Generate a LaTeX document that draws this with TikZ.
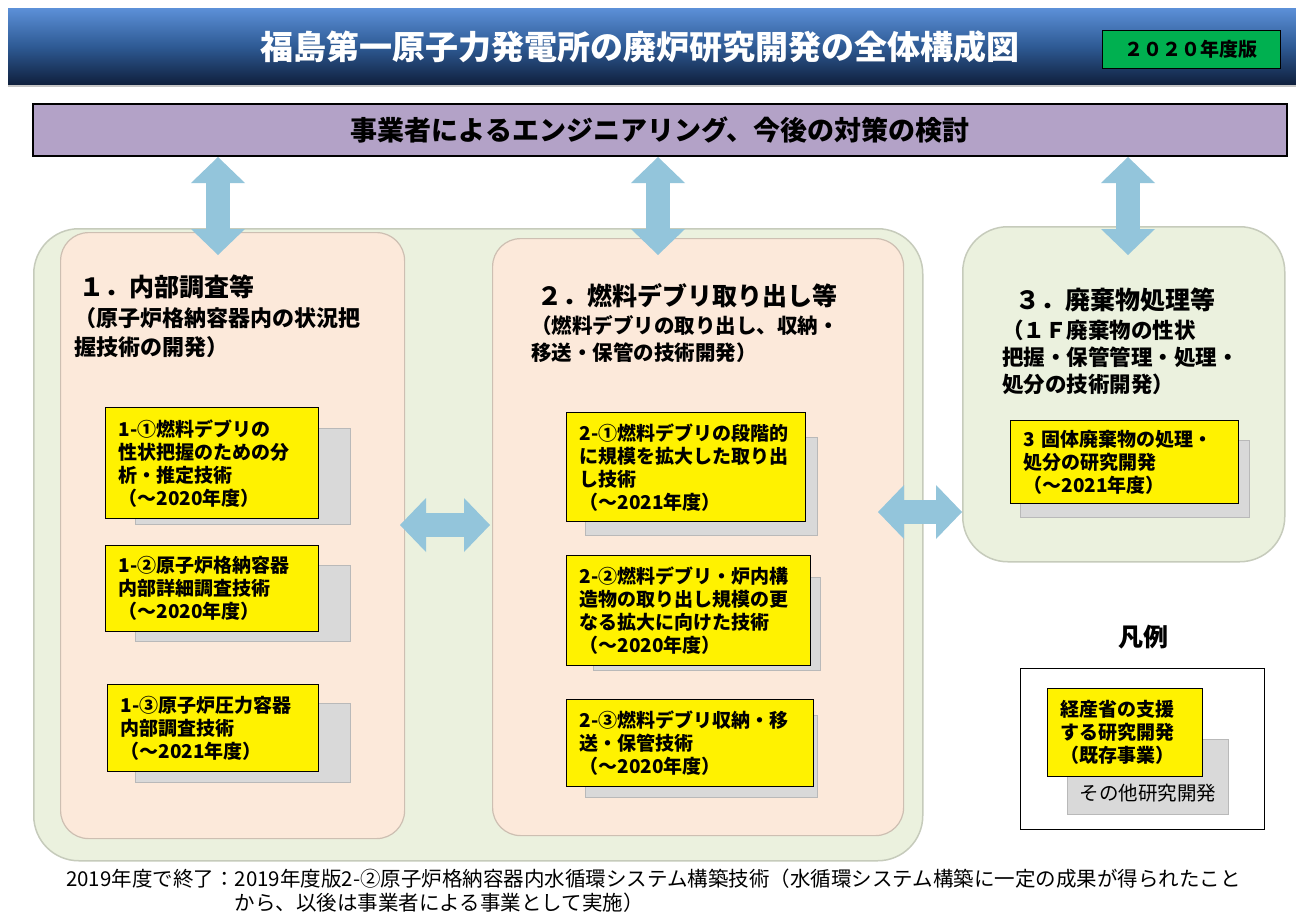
\documentclass[tikz,border=0pt]{standalone}
\usepackage{fontspec}
\setmainfont{Noto Sans CJK JP}
\usetikzlibrary{arrows.meta}
\newcommand{\fs}[2]{\fontsize{#1}{#2}\selectfont}
\definecolor{hdtop}{HTML}{5C90D8}
\definecolor{hdmid}{HTML}{2E5A94}
\definecolor{hdbot}{HTML}{0F1F3C}
\definecolor{bangreen}{HTML}{00B050}
\definecolor{barpurple}{HTML}{B3A2C7}
\definecolor{arrblue}{HTML}{93C5DB}
\definecolor{zonegreen}{HTML}{EBF1DE}
\definecolor{zoneline}{HTML}{C6CBBB}
\definecolor{panelpink}{HTML}{FCE9DA}
\definecolor{panelline}{HTML}{CDBFB2}
\definecolor{shadowgray}{HTML}{D9D9D9}

\begin{document}
\begin{tikzpicture}[x=1pt,y=-1pt,
    zone/.style={draw=zoneline, line width=1.5pt, fill=zonegreen, rounded corners=45pt, anchor=north west},
    panel/.style={draw=panelline, line width=1.2pt, fill=panelpink, rounded corners=28pt, anchor=north west},
    ybox/.style={draw=black, line width=1.3pt, fill=yellow, anchor=north west, align=left, inner xsep=13pt, font=\bfseries\fs{19}{23}},
    gbox/.style={draw=gray!55, line width=1pt, fill=shadowgray, anchor=north west},
    head/.style={anchor=west, font=\bfseries\fs{25}{28}},
    sub/.style={anchor=north west, align=left, inner sep=0pt},
    fat/.style={line width=24pt, draw=arrblue, fill=arrblue,
      {Triangle[length=26pt,width=54pt,line width=0pt]}-{Triangle[length=26pt,width=54pt,line width=0pt]}}]
    \useasboundingbox (0,0) rectangle (1296,913);
    \fill[white] (0,0) rectangle (1296,913);

    \shade[top color=hdtop, bottom color=hdbot, middle color=hdmid] (8,8) rectangle (1296,85);
    \draw[gray!45, line width=2pt] (8,86) -- (1296,86);
    \node[text=white, font=\bfseries\fs{33}{38}] (title) at (640,47) {福島第一原子力発電所の廃炉研究開発の全体構成図};
    \node[draw=black, line width=1pt, fill=bangreen, minimum width=178pt, minimum height=38pt, font=\bfseries\fs{19}{22}] (ban) at (1191,49) {２０２０年度版};

    \node[draw=black, line width=1.5pt, fill=barpurple, minimum width=1254pt, minimum height=52pt, font=\bfseries\fs{27}{30}] (bar) at (660,130) {事業者によるエンジニアリング、今後の対策の検討};

    \node[zone, minimum width=889pt, minimum height=632pt] (zone) at (33,228) {};
    \node[panel, minimum width=344pt, minimum height=606pt] (p1) at (60,232) {};
    \node[panel, minimum width=411pt, minimum height=597pt] (p2) at (492,238) {};
    \node[zone, minimum width=322pt, minimum height=335pt] (p3) at (962,226) {};

    \node[head] (h1) at (76,287) {１．内部調査等};
    \node[sub, font=\bfseries\fs{22}{29}] (d1) at (74,307) {（原子炉格納容器内の状況把\\握技術の開発）};
    \node[head] (h2) at (534,296) {２．燃料デブリ取り出し等};
    \node[sub, font=\bfseries\fs{20.5}{27}] (d2) at (531,315) {（燃料デブリの取り出し、収納・\\移送・保管の技術開発）};
    \node[head] (h3) at (1012,300) {３．廃棄物処理等};
    \node[sub, font=\bfseries\fs{21.5}{27}] (d3) at (1002,320) {（１Ｆ廃棄物の性状\\把握・保管管理・処理・\\処分の技術開発）};

    \node[gbox, minimum width=215pt, minimum height=96pt] (s11) at (135,428) {};
    \node[ybox, minimum width=213pt, minimum height=111pt, text width=187pt] (b11) at (105,407) {1-①燃料デブリの\\性状把握のための分\\析・推定技術\\（～2020年度）};
    \node[gbox, minimum width=215pt, minimum height=76pt] (s12) at (135,565) {};
    \node[ybox, minimum width=213pt, minimum height=86pt, text width=187pt] (b12) at (105,545) {1-②原子炉格納容器\\内部詳細調査技術\\（～2020年度）};
    \node[gbox, minimum width=215pt, minimum height=79pt] (s13) at (135,703) {};
    \node[ybox, minimum width=211pt, minimum height=87pt, text width=185pt] (b13) at (107,684) {1-③原子炉圧力容器\\内部調査技術\\（～2021年度）};

    \node[gbox, minimum width=232pt, minimum height=98pt] (s21) at (585,437) {};
    \node[ybox, minimum width=239pt, minimum height=109pt, text width=213pt] (b21) at (566,412) {2-①燃料デブリの段階的\\に規模を拡大した取り出\\し技術\\（～2021年度）};
    \node[gbox, minimum width=227pt, minimum height=93pt] (s22) at (593,577) {};
    \node[ybox, minimum width=244pt, minimum height=110pt, text width=218pt] (b22) at (566,555) {2-②燃料デブリ・炉内構\\造物の取り出し規模の更\\なる拡大に向けた技術\\（～2020年度）};
    \node[gbox, minimum width=232pt, minimum height=82pt] (s23) at (585,715) {};
    \node[ybox, minimum width=247pt, minimum height=87pt, text width=221pt] (b23) at (566,699) {2-③燃料デブリ収納・移\\送・保管技術\\（～2020年度）};

    \node[gbox, minimum width=229pt, minimum height=77pt] (s31) at (1020,440) {};
    \node[ybox, minimum width=228pt, minimum height=83pt, text width=202pt] (b31) at (1010,420) {3 固体廃棄物の処理・\\処分の研究開発\\（～2021年度）};

    \node[font=\bfseries\fs{25}{28}] (lgt) at (1143,637) {凡例};
    \node[draw=black, line width=1pt, fill=white, minimum width=244pt, minimum height=161pt, anchor=north west] (lg) at (1020,668) {};
    \node[gbox, minimum width=161pt, minimum height=75pt] (lgs) at (1067,739) {};
    \node[font=\fs{19.5}{22}] (lgn) at (1148,793) {その他研究開発};
    \node[ybox, minimum width=155pt, minimum height=88pt, text width=129pt] (lgy) at (1047,688) {経産省の支援\\する研究開発\\（既存事業）};

    \node[anchor=north west, inner sep=0pt, font=\fs{20.5}{21}] (note) at (66,869) {\begin{tabular}{@{}l@{}l@{}}2019年度で終了：&2019年度版2-②原子炉格納容器内水循環システム構築技術（水循環システム構築に一定の成果が得られたこと\\&から、以後は事業者による事業として実施）\end{tabular}};

    \coordinate (v1a) at (218,157);
    \coordinate (v1b) at (218,255);
    \coordinate (v2a) at (658,157);
    \coordinate (v2b) at (658,255);
    \coordinate (v3a) at (1128,157);
    \coordinate (v3b) at (1128,255);
    \coordinate (m12a) at (400,525);
    \coordinate (m12b) at (490,525);
    \coordinate (m23a) at (878,512);
    \coordinate (m23b) at (962,512);
    \draw[fat] (v1a) -- (v1b);
    \draw[fat] (v2a) -- (v2b);
    \draw[fat] (v3a) -- (v3b);
    \draw[fat] (m12a) -- (m12b);
    \draw[fat] (m23a) -- (m23b);
\end{tikzpicture}
\end{document}
